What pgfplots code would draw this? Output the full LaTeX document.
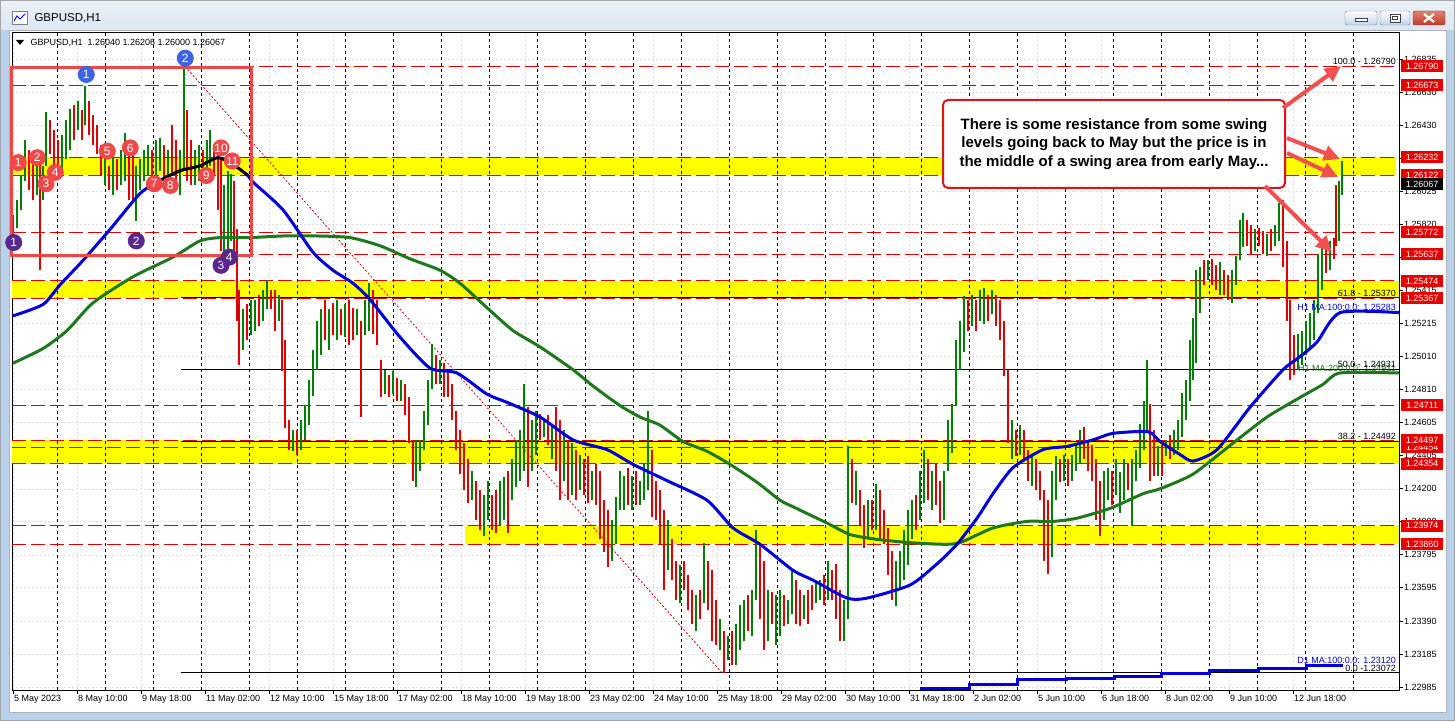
\documentclass[border=0pt]{standalone}
\usepackage{fontspec}
\setmainfont{Liberation Sans}
\usepackage{pgfplots}
\usepackage{pgfplotstable}
\pgfplotsset{compat=1.18}
\usetikzlibrary{arrows.meta}

\definecolor{barup}{RGB}{0,128,0}
\definecolor{bardn}{RGB}{225,0,0}
\definecolor{maone}{RGB}{0,0,220}
\definecolor{matwo}{RGB}{30,120,30}
\definecolor{lvl}{RGB}{220,0,0}
\definecolor{tagred}{RGB}{232,0,0}
\definecolor{band}{RGB}{255,255,0}
\definecolor{cred}{RGB}{240,72,72}
\definecolor{cblue}{RGB}{60,100,230}
\definecolor{cpurple}{RGB}{88,40,140}
\definecolor{rectred}{RGB}{235,72,72}
\definecolor{calred}{RGB}{225,20,20}
\definecolor{arrred}{RGB}{242,80,80}
\definecolor{frameblue}{RGB}{185,209,234}
\definecolor{titlebar}{RGB}{220,231,243}
\definecolor{btnblue}{RGB}{196,212,234}
\definecolor{btnedge}{RGB}{110,130,160}
\definecolor{closetop}{RGB}{226,130,110}
\definecolor{closebot}{RGB}{190,60,40}

% rising hourly bars: x (pixel column), low, high
\pgfplotstableread{
x l h
13 1.2576 1.2588
17 1.2580 1.2597
21 1.2591 1.2612
25 1.2609 1.2634
37 1.2600 1.2618
43 1.2597 1.2618
46 1.2618 1.2651
62 1.2615 1.2637
66 1.2622 1.2646
70 1.2628 1.2653
78 1.2640 1.2658
85 1.2643 1.2667
105 1.2606 1.2622
113 1.2600 1.2625
121 1.2606 1.2628
125 1.2609 1.2638
136 1.2584 1.2618
140 1.2603 1.2622
144 1.2609 1.2628
148 1.2612 1.2631
156 1.2612 1.2634
160 1.2615 1.2635
168 1.2603 1.2628
180 1.2600 1.2628
184 1.2615 1.2679
195 1.2606 1.2628
199 1.2609 1.2631
207 1.2615 1.2634
210 1.2618 1.2640
224 1.2563 1.2606
228 1.2563 1.2615
231 1.2572 1.2613
243 1.2505 1.2530
251 1.2514 1.2536
255 1.2517 1.2536
263 1.2523 1.2542
267 1.2530 1.2548
279 1.2523 1.2539
293 1.2443 1.2456
301 1.2444 1.2462
305 1.2450 1.2471
309 1.2459 1.2487
313 1.2477 1.2505
317 1.2493 1.2523
321 1.2502 1.2530
329 1.2505 1.2530
337 1.2511 1.2536
345 1.2513 1.2533
357 1.2514 1.2530
365 1.2514 1.2536
369 1.2517 1.2546
385 1.2478 1.2493
393 1.2478 1.2492
401 1.2474 1.2487
416 1.2421 1.2450
420 1.2431 1.2450
424 1.2444 1.2468
428 1.2459 1.2487
432 1.2481 1.2509
440 1.2484 1.2499
472 1.2413 1.2431
484 1.2391 1.2416
488 1.2401 1.2425
500 1.2398 1.2425
504 1.2401 1.2427
512 1.2413 1.2438
516 1.2421 1.2450
520 1.2425 1.2456
524 1.2431 1.2484
532 1.2431 1.2462
536 1.2441 1.2468
544 1.2452 1.2462
552 1.2438 1.2459
564 1.2425 1.2456
572 1.2416 1.2448
580 1.2419 1.2441
592 1.2413 1.2431
612 1.2376 1.2401
616 1.2386 1.2415
620 1.2407 1.2431
624 1.2407 1.2428
632 1.2407 1.2428
640 1.2410 1.2425
644 1.2413 1.2435
648 1.2419 1.2468
668 1.2370 1.2401
680 1.2350 1.2373
696 1.2333 1.2355
704 1.2350 1.2387
720 1.2321 1.2340
728 1.2315 1.2330
736 1.2312 1.2337
740 1.2321 1.2349
744 1.2327 1.2352
752 1.2330 1.2358
756 1.2352 1.2395
768 1.2327 1.2358
776 1.2324 1.2355
780 1.2330 1.2358
788 1.2337 1.2352
792 1.2343 1.2370
804 1.2340 1.2355
816 1.2350 1.2362
820 1.2352 1.2364
828 1.2352 1.2376
844 1.2327 1.2352
848 1.2340 1.2446
856 1.2410 1.2431
868 1.2389 1.2413
876 1.2395 1.2423
896 1.2348 1.2376
900 1.2358 1.2382
904 1.2364 1.2395
908 1.2373 1.2407
912 1.2389 1.2413
920 1.2401 1.2431
924 1.2411 1.2444
932 1.2407 1.2431
944 1.2401 1.2431
948 1.2431 1.2462
952 1.2442 1.2472
956 1.2471 1.2511
960 1.2493 1.2523
964 1.2504 1.2538
972 1.2520 1.2539
980 1.2523 1.2542
984 1.2521 1.2543
992 1.2527 1.2542
1012 1.2438 1.2462
1020 1.2441 1.2459
1032 1.2422 1.2441
1052 1.2378 1.2431
1056 1.2413 1.2440
1064 1.2425 1.2441
1072 1.2425 1.2441
1076 1.2431 1.2447
1080 1.2435 1.2456
1104 1.2401 1.2431
1108 1.2413 1.2433
1116 1.2416 1.2438
1120 1.2405 1.2430
1124 1.2413 1.2438
1132 1.2397 1.2438
1136 1.2425 1.2444
1140 1.2433 1.2460
1144 1.2444 1.2474
1147 1.2456 1.2499
1158 1.2428 1.2446
1166 1.2440 1.2450
1174 1.2441 1.2456
1178 1.2444 1.2462
1182 1.2452 1.2479
1186 1.2462 1.2487
1190 1.2474 1.2511
1193 1.2487 1.2525
1196 1.2497 1.2554
1200 1.2528 1.2556
1208 1.2548 1.2560
1220 1.2539 1.2559
1232 1.2534 1.2554
1236 1.2545 1.2563
1240 1.2560 1.2585
1243 1.2568 1.2589
1255 1.2566 1.2579
1267 1.2563 1.2576
1275 1.2569 1.2582
1279 1.2572 1.2595
1298 1.2493 1.2515
1302 1.2496 1.2517
1306 1.2502 1.2523
1310 1.2507 1.2528
1314 1.2511 1.2536
1318 1.2528 1.2564
1322 1.2542 1.2569
1330 1.2554 1.2572
1339 1.2572 1.2609
1342 1.2600 1.2621
}\upbars

% falling hourly bars: x, low, high
\pgfplotstableread{
x l h
29 1.2603 1.2628
33 1.2597 1.2622
40 1.2554 1.2628
50 1.2625 1.2646
54 1.2615 1.2640
58 1.2612 1.2634
74 1.2634 1.2655
82 1.2634 1.2652
89 1.2637 1.2658
93 1.2631 1.2649
97 1.2625 1.2643
101 1.2612 1.2631
109 1.2603 1.2618
117 1.2603 1.2622
129 1.2597 1.2634
133 1.2597 1.2628
152 1.2609 1.2628
164 1.2606 1.2631
172 1.2612 1.2643
176 1.2603 1.2634
187 1.2609 1.2652
191 1.2606 1.2634
203 1.2612 1.2628
214 1.2612 1.2628
218 1.2591 1.2628
221 1.2566 1.2622
234 1.2559 1.2609
237 1.2523 1.2579
239 1.2496 1.2542
247 1.2511 1.2533
259 1.2520 1.2539
271 1.2530 1.2542
275 1.2517 1.2542
282 1.2492 1.2536
285 1.2457 1.2511
289 1.2444 1.2462
297 1.2441 1.2456
325 1.2511 1.2536
333 1.2514 1.2534
341 1.2514 1.2530
349 1.2508 1.2536
353 1.2511 1.2531
361 1.2464 1.2523
373 1.2515 1.2542
377 1.2508 1.2536
381 1.2476 1.2499
389 1.2476 1.2490
397 1.2474 1.2488
405 1.2465 1.2484
409 1.2448 1.2476
413 1.2425 1.2450
436 1.2484 1.2502
444 1.2476 1.2497
448 1.2476 1.2493
452 1.2462 1.2484
456 1.2444 1.2468
460 1.2429 1.2456
464 1.2419 1.2448
468 1.2411 1.2438
476 1.2401 1.2425
480 1.2395 1.2419
492 1.2395 1.2416
496 1.2393 1.2419
508 1.2393 1.2431
528 1.2421 1.2470
540 1.2450 1.2466
548 1.2447 1.2465
556 1.2431 1.2470
560 1.2413 1.2462
568 1.2413 1.2450
576 1.2413 1.2444
584 1.2416 1.2438
588 1.2411 1.2440
596 1.2410 1.2435
600 1.2389 1.2431
604 1.2381 1.2413
608 1.2372 1.2407
628 1.2410 1.2433
636 1.2410 1.2431
652 1.2403 1.2444
656 1.2401 1.2425
660 1.2386 1.2419
664 1.2358 1.2407
672 1.2364 1.2389
676 1.2352 1.2376
684 1.2358 1.2376
688 1.2346 1.2367
692 1.2337 1.2358
700 1.2340 1.2358
708 1.2346 1.2376
712 1.2327 1.2370
716 1.2324 1.2352
724 1.2307 1.2333
732 1.2312 1.2333
748 1.2333 1.2355
760 1.2340 1.2387
764 1.2321 1.2376
772 1.2337 1.2357
784 1.2336 1.2355
796 1.2337 1.2364
800 1.2336 1.2358
808 1.2337 1.2358
812 1.2346 1.2361
824 1.2349 1.2367
832 1.2352 1.2370
836 1.2340 1.2374
840 1.2327 1.2358
852 1.2411 1.2438
860 1.2398 1.2419
864 1.2384 1.2410
872 1.2395 1.2413
880 1.2389 1.2419
884 1.2386 1.2407
888 1.2367 1.2396
892 1.2352 1.2382
916 1.2395 1.2416
928 1.2413 1.2438
936 1.2410 1.2435
940 1.2399 1.2425
968 1.2517 1.2536
976 1.2517 1.2536
988 1.2523 1.2539
996 1.2520 1.2539
1000 1.2511 1.2536
1004 1.2489 1.2523
1008 1.2448 1.2493
1016 1.2440 1.2456
1024 1.2438 1.2456
1028 1.2425 1.2444
1036 1.2419 1.2438
1040 1.2413 1.2431
1044 1.2376 1.2419
1048 1.2368 1.2413
1060 1.2424 1.2438
1068 1.2422 1.2438
1084 1.2438 1.2458
1088 1.2431 1.2450
1092 1.2425 1.2447
1096 1.2401 1.2438
1100 1.2391 1.2425
1112 1.2410 1.2431
1128 1.2419 1.2436
1150 1.2425 1.2472
1154 1.2428 1.2456
1162 1.2428 1.2447
1170 1.2438 1.2453
1204 1.2545 1.2560
1212 1.2545 1.2561
1216 1.2542 1.2557
1224 1.2539 1.2554
1228 1.2536 1.2551
1247 1.2569 1.2585
1251 1.2564 1.2582
1259 1.2569 1.2580
1263 1.2564 1.2578
1271 1.2566 1.2579
1283 1.2556 1.2597
1287 1.2523 1.2572
1290 1.2487 1.2536
1294 1.2490 1.2514
1326 1.2552 1.2572
1334 1.2561 1.2574
1336 1.2569 1.2606
}\dnbars

\begin{document}
\begin{tikzpicture}[x=1pt,y=1pt]
\useasboundingbox (0,0) rectangle (1455,721);
% window chrome
\fill[frameblue] (0,0) rectangle (1455,721);
\shade[top color=titlebar!60!white, bottom color=titlebar] (0,691) rectangle (1455,721);
\draw[gray!70] (0.5,0.5) rectangle (1454.5,720.5);
\fill[white] (9,9) rectangle (1446,691);
\draw[gray!60] (9,9) rectangle (1446,691);
\draw[gray, fill=white] (12,697) rectangle (27,710);
\draw[maone, line width=1pt] (14,700) -- (17,705) -- (20,702) -- (25,707);
\node[anchor=west, font=\fontsize{11.5}{13}\selectfont] at (31,703) {GBPUSD,H1};
\shade[top color=white, bottom color=btnblue, draw=btnedge, rounded corners=2pt] (1345,696) rectangle (1377,710);
\draw[darkgray, fill=white] (1355,699.5) rectangle (1367,702.5);
\shade[top color=white, bottom color=btnblue, draw=btnedge, rounded corners=2pt] (1380,696) rectangle (1410,710);
\draw[darkgray, fill=white] (1390,699) rectangle (1400,707);
\draw[darkgray] (1392.5,701.5) rectangle (1397.5,704.5);
\shade[top color=closetop, bottom color=closebot, draw=closebot!70!black, rounded corners=2pt] (1413,696) rectangle (1445,710);
\draw[white, line width=2.2pt] (1424,699) -- (1434,707) (1424,707) -- (1434,699);

\begin{axis}[
    at={(12pt,31pt)}, anchor=south west,
    scale only axis, width=1387pt, height=657pt,
    xmin=12, xmax=1399, ymin=1.229666, ymax=1.269943,
    clip=false,
    axis line style={black, line width=1pt},
    xtick={13,77,141,205,269,333,397,461,525,589,653,717,781,845,909,973,1037,1101,1165,1229,1293},
    xticklabels={5 May 2023,8 May 10:00,9 May 18:00,11 May 02:00,12 May 10:00,15 May 18:00,17 May 02:00,18 May 10:00,19 May 18:00,23 May 02:00,24 May 10:00,25 May 18:00,29 May 02:00,30 May 10:00,31 May 18:00,2 Jun 02:00,5 Jun 10:00,6 Jun 18:00,8 Jun 02:00,9 Jun 10:00,12 Jun 18:00},
    ytick={1.22985,1.23185,1.23390,1.23595,1.23795,1.24000,1.24200,1.24405,1.24605,1.24810,1.25010,1.25215,1.25415,1.25620,1.25820,1.26025,1.26225,1.26430,1.26630,1.26835},
    yticklabels={1.22985,1.23185,1.23390,1.23595,1.23795,1.24000,1.24200,1.24405,1.24605,1.24810,1.25010,1.25215,1.25415,1.25620,1.25820,1.26025,1.26225,1.26430,1.26630,1.26835},
    xtick pos=left, ytick pos=right, yticklabel pos=right,
    tick align=outside, major tick length=4pt,
    tick style={black, line width=0.8pt},
    xticklabel style={anchor=north west, inner sep=1pt},
    yticklabel style={anchor=west, inner sep=1pt},
    tick label style={font=\fontsize{9}{10}\selectfont},
    grid=major, major grid style={gray!25, dash pattern=on 2pt off 2pt, line width=0.6pt},
  ]
  % swing zones
  \fill[band] (axis cs:12,1.26122) rectangle (axis cs:1396,1.26232);
  \fill[band] (axis cs:12,1.25367) rectangle (axis cs:1399,1.25474);
  \fill[band] (axis cs:12,1.24354) rectangle (axis cs:1399,1.24497);
  \fill[band] (axis cs:465,1.23860) rectangle (axis cs:1399,1.23974);
  % day separators
  \pgfplotsinvokeforeach{57.7,105.7,...,1353.7}{
    \draw[black, line width=0.8pt, dash pattern=on 3pt off 3pt] (axis cs:#1,1.229666) -- (axis cs:#1,1.269943);
  }
  % swing levels
  \pgfplotsinvokeforeach{1.26790,1.26673,1.26232,1.26122,1.25772,1.25637,1.25474,1.25367,1.24711,1.24497,1.24454,1.24354,1.23974,1.23860}{
    \draw[lvl, line width=1pt, dash pattern=on 14pt off 5pt] (axis cs:12,#1) -- (axis cs:1399,#1);
  }
  % fibonacci levels
  \pgfplotsinvokeforeach{1.25370,1.24931,1.24492,1.23072}{
    \draw[black, line width=1pt] (axis cs:181,#1) -- (axis cs:1399,#1);
  }
  \draw[lvl, line width=0.8pt, dash pattern=on 2pt off 2pt] (axis cs:185,1.2679) -- (axis cs:722,1.23072);

  % price bars
  \addplot[draw=none, mark=none, forget plot,
    error bars/.cd, y dir=plus, y explicit, error mark=none,
    error bar style={draw=barup, line width=1.6pt}]
    table[x=x, y=l, y error plus expr=\thisrow{h}-\thisrow{l}] {\upbars};
  \addplot[draw=none, mark=none, forget plot,
    error bars/.cd, y dir=plus, y explicit, error mark=none,
    error bar style={draw=bardn, line width=1.6pt}]
    table[x=x, y=l, y error plus expr=\thisrow{h}-\thisrow{l}] {\dnbars};

  % moving averages
  \addplot[matwo, line width=3pt, smooth, tension=0.4] coordinates {
    (13,1.2497) (43,1.2506) (67,1.2517) (93,1.2534) (133,1.2550) (173,1.2562) (200,1.2572) (220,1.2574)
    (250,1.2574) (283,1.2575) (317,1.2575) (350,1.2574) (380,1.2569) (410,1.2561) (440,1.2554) (460,1.2546)
    (487,1.2531) (513,1.2517) (540,1.2507) (573,1.2493) (593,1.2483) (620,1.2471) (640,1.2464) (660,1.2459)
    (683,1.2449) (707,1.2443) (730,1.2435) (757,1.2424) (780,1.2413) (793,1.2409) (827,1.2399) (850,1.2392)
    (877,1.2389) (910,1.2387) (943,1.2386) (960,1.2387) (993,1.2396) (1027,1.2400) (1053,1.2400) (1077,1.2402)
    (1110,1.2408) (1143,1.2417) (1160,1.2420) (1193,1.2429) (1233,1.2448) (1267,1.2464) (1300,1.2476)
    (1323,1.2484) (1340,1.2491) (1399,1.2491)};
  \addplot[maone, line width=3pt, smooth, tension=0.4] coordinates {
    (13,1.2526) (43,1.2533) (60,1.2545) (83,1.2560) (110,1.2579) (140,1.2601) (160,1.2609) (180,1.2615)
    (200,1.2618) (218,1.2623) (235,1.2618) (248,1.2612) (253,1.2608) (283,1.2591) (313,1.2565) (333,1.2554)
    (353,1.2546) (370,1.2536) (400,1.2513) (430,1.2494) (457,1.2491) (487,1.2478) (507,1.2473) (540,1.2464)
    (573,1.2450) (607,1.2444) (633,1.2435) (667,1.2425) (707,1.2413) (733,1.2396) (760,1.2386) (793,1.2370)
    (813,1.2364) (847,1.2353) (867,1.2353) (910,1.2361) (937,1.2374) (957,1.2386) (977,1.2402) (993,1.2417)
    (1013,1.2433) (1043,1.2444) (1067,1.2446) (1093,1.2450) (1113,1.2454) (1148,1.2455) (1160,1.2449)
    (1180,1.2441) (1193,1.2437) (1217,1.2444) (1250,1.2470) (1283,1.2493) (1300,1.2501) (1317,1.2510)
    (1340,1.2528) (1399,1.2528)};
  \addplot[black, line width=2.5pt, smooth, tension=0.4] coordinates {
    (160,1.2609) (180,1.2615) (200,1.2618) (218,1.2623) (235,1.2618) (248,1.2612)};
  \addplot[maone, line width=3pt, const plot] coordinates {
    (920,1.22975) (969,1.23000) (1017,1.23028) (1066,1.23040) (1114,1.23052) (1161,1.23066)
    (1209,1.23085) (1258,1.23101) (1306,1.23118) (1343,1.23118)};

  % swing box and markers
  \draw[rectred, line width=3pt] (axis cs:11,1.26784) rectangle (axis cs:251.5,1.25633);
  \tikzset{swing/.style={circle, inner sep=0pt, minimum size=17pt, text=white, font=\fontsize{12}{12}\selectfont}}
  \node[swing, fill=cred] at (axis cs:18.3,1.2620) {1};
  \node[swing, fill=cred] at (axis cs:37.3,1.2623) {2};
  \node[swing, fill=cred] at (axis cs:46,1.2607) {3};
  \node[swing, fill=cred] at (axis cs:55.3,1.2614) {4};
  \node[swing, fill=cred] at (axis cs:107.3,1.2627) {5};
  \node[swing, fill=cred] at (axis cs:130.3,1.2629) {6};
  \node[swing, fill=cred] at (axis cs:154.3,1.2607) {7};
  \node[swing, fill=cred] at (axis cs:170.3,1.2606) {8};
  \node[swing, fill=cred] at (axis cs:206.3,1.2612) {9};
  \node[swing, fill=cred] at (axis cs:221,1.2629) {10};
  \node[swing, fill=cred] at (axis cs:232.3,1.2621) {11};
  \node[swing, fill=cblue] at (axis cs:86.3,1.2674) {1};
  \node[swing, fill=cblue] at (axis cs:185.3,1.2684) {2};
  \node[swing, fill=cpurple] at (axis cs:13.7,1.2571) {1};
  \node[swing, fill=cpurple] at (axis cs:136.3,1.2572) {2};
  \node[swing, fill=cpurple] at (axis cs:221,1.2557) {3};
  \node[swing, fill=cpurple] at (axis cs:229.3,1.2562) {4};

  % price tags on the scale
  \tikzset{pricetag/.style={anchor=west, xshift=2pt, fill=tagred, text=white, inner sep=0pt,
      minimum width=42pt, minimum height=12pt, font=\fontsize{9}{10}\selectfont}}
  \node[pricetag] at (axis cs:1399,1.26790) {1.26790};
  \node[pricetag] at (axis cs:1399,1.26673) {1.26673};
  \node[pricetag] at (axis cs:1399,1.26232) {1.26232};
  \node[pricetag] at (axis cs:1399,1.26122) {1.26122};
  \node[pricetag, fill=black] at (axis cs:1399,1.26067) {1.26067};
  \node[pricetag] at (axis cs:1399,1.25772) {1.25772};
  \node[pricetag] at (axis cs:1399,1.25637) {1.25637};
  \node[pricetag] at (axis cs:1399,1.25474) {1.25474};
  \node[pricetag] at (axis cs:1399,1.25367) {1.25367};
  \node[pricetag] at (axis cs:1399,1.24711) {1.24711};
  \node[pricetag] at (axis cs:1399,1.24454) {1.24454};
  \node[pricetag] at (axis cs:1399,1.24497) {1.24497};
  \node[pricetag] at (axis cs:1399,1.24354) {1.24354};
  \node[pricetag] at (axis cs:1399,1.23974) {1.23974};
  \node[pricetag] at (axis cs:1399,1.23860) {1.23860};
\end{axis}

% chart header and level captions
\fill (16,681) -- (24,681) -- (20,676) -- cycle;
\node[anchor=west, font=\fontsize{9}{10}\selectfont] at (27,678) {GBPUSD,H1\ \ 1.26040 1.26206 1.26000 1.26067};
\tikzset{lvlcaption/.style={anchor=east, inner sep=1pt, font=\fontsize{9}{10}\selectfont}}
\node[lvlcaption] at (1397,659.3) {100.0 - 1.26790};
\node[lvlcaption] at (1397,428) {61.8 - 1.25370};
\node[lvlcaption, text=maone] at (1397,414) {H1 MA:100:0.0: 1.25283};
\node[lvlcaption, text=matwo] at (1397,353) {H1 MA:200:0.0: 1.24911};
\node[lvlcaption] at (1397,357) {50.0 - 1.24931};
\node[lvlcaption] at (1397,284.3) {38.2 - 1.24492};
\node[lvlcaption, text=maone] at (1397,61) {D1 MA:100:0.0: 1.23120};
\node[lvlcaption] at (1397,53) {0.0 -1.23072};

% callout
\draw[calred, line width=2pt, fill=white, rounded corners=5pt] (943,533) rectangle (1285,621);
\node[align=center, font={\fontsize{15}{18.3}\selectfont\bfseries}] at (1114,577)
  {There is some resistance from some swing\\levels going back to May but the price is in\\the middle of a swing area from early May...};
\tikzset{arr/.style={arrred, line width=4pt, -{Triangle[length=16pt,width=15pt]}}}
\draw[arr] (1283,613) -- (1341,655);
\draw[arr] (1287,583) -- (1340,562);
\draw[arr] (1287,568) -- (1338,544);
\draw[arr] (1265,535) -- (1332,469);
\end{tikzpicture}
\end{document}
